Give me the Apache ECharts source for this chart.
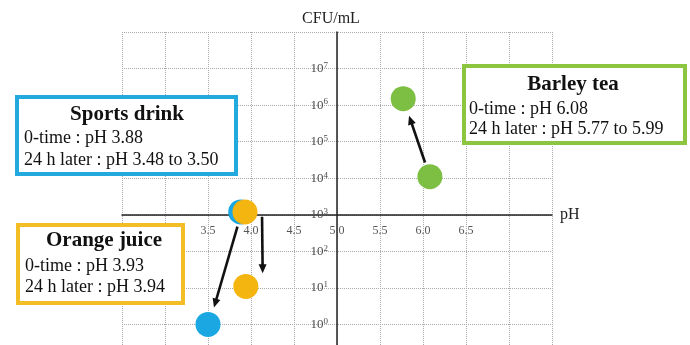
<!DOCTYPE html>
<html>
<head>
<meta charset="utf-8">
<script src="https://cdn.jsdelivr.net/npm/echarts@6/dist/echarts.min.js"></script>
<style>
  html, body { margin: 0; padding: 0; background: #fff; overflow: hidden; }
  #frame { width: 690px; height: 345px; overflow: hidden; position: relative; }
  /* the plot continues a little below the visible frame */
  #chart { width: 690px; height: 361px; position: absolute; left: 0; top: 0; }
</style>
</head>
<body>
<div id="frame"><div id="chart"></div></div>
<script>
// Beverages and their bacterial counts at 0 h and after 24 h
const categories = ['Sports drink', 'Orange juice', 'Barley tea'];
const phStart = [3.88, 3.93, 6.08];
const phEnd = [3.50, 3.94, 5.77];
const cfuStart = [1.2e3, 1.2e3, 1.1e4];
const cfuEnd = [1, 11, 1.5e6];

// Axis ranges and the tick labels that are printed
const phMin = 2.5, phMax = 7.5, phStep = 0.5;
const phTickLabels = ['3.5', '4.0', '4.5', '5.0', '5.5', '6.0', '6.5'];
const cfuMin = 0.1, cfuMax = 1e8;
const cfuTickExponents = [0, 1, 2, 3, 4, 5, 6, 7];
const phCross = 5.0;      // vertical axis sits at this pH
const cfuCross = 1e3;     // horizontal axis sits at this count

// Note boxes
const boxTitles = ['Sports drink', 'Orange juice', 'Barley tea'];
const boxLines = [
  ['0-time : pH 3.88', '24 h later : pH 3.48 to 3.50'],
  ['0-time : pH 3.93', '24 h later : pH 3.94'],
  ['0-time : pH 6.08', '24 h later : pH 5.77 to 5.99']
];

// ---- styling ----
const colors = ['#1BA8E2', '#F5B511', '#7DBF42'];
const boxBorder = ['#22A9DD', '#F3BE25', '#8CC53F'];
const serif = '"Liberation Serif", "Times New Roman", serif';
const grid = { left: 122, top: 32, width: 430, height: 329 };
const xAxisOffset = -grid.height * (Math.log10(cfuCross) - Math.log10(cfuMin)) /
  (Math.log10(cfuMax) - Math.log10(cfuMin));
const yAxisOffset = -grid.width * (phCross - phMin) / (phMax - phMin);

// arrow trimming (px) from each dot centre and sideways shift
const arrowStyle = [
  { trimStart: 15, trimEnd: 18, shift: 1 },
  { trimStart: 5, trimEnd: 13, shift: 17 },
  { trimStart: 15, trimEnd: 18, shift: 0 }
];

// box layout: [x, y, w, h], title centre x, title/line baselines
const boxLayout = [
  { rect: [17, 97, 219, 77], titleX: 127, textX: 24, ys: [115, 138, 160] },
  { rect: [18, 225, 165, 78], titleX: 104, textX: 25, ys: [241, 266, 287] },
  { rect: [464, 66, 221, 77], titleX: 573, textX: 469, ys: [85, 109, 129] }
];

const chart = echarts.init(document.getElementById('chart'), null, { renderer: 'canvas' });

const scatterSeries = categories.map((name, i) => ({
  name: name,
  type: 'scatter',
  symbolSize: 25,
  z: 3,
  itemStyle: { color: colors[i], opacity: 1 },
  data: [[phStart[i], cfuStart[i]], [phEnd[i], cfuEnd[i]]]
}));

const arrowSeries = {
  type: 'custom',
  z: 4,
  silent: true,
  encode: { x: [0, 2], y: [1, 3] },
  data: categories.map((c, i) => [phStart[i], cfuStart[i], phEnd[i], cfuEnd[i]]),
  renderItem: function (params, api) {
    const st = arrowStyle[params.dataIndex];
    const p0 = api.coord([api.value(0), api.value(1)]);
    const p1 = api.coord([api.value(2), api.value(3)]);
    const dx = p1[0] - p0[0], dy = p1[1] - p0[1];
    const len = Math.sqrt(dx * dx + dy * dy);
    const ux = dx / len, uy = dy / len;
    const px = uy, py = -ux;
    const sx = p0[0] + ux * st.trimStart + px * st.shift;
    const sy = p0[1] + uy * st.trimStart + py * st.shift;
    const tx = p1[0] - ux * st.trimEnd + px * st.shift;
    const ty = p1[1] - uy * st.trimEnd + py * st.shift;
    const headLen = 9, headHalf = 4;
    const bx = tx - ux * headLen, by = ty - uy * headLen;
    return {
      type: 'group',
      children: [
        {
          type: 'line',
          shape: { x1: sx, y1: sy, x2: bx + ux * 1, y2: by + uy * 1 },
          style: { stroke: '#111', lineWidth: 2.6 }
        },
        {
          type: 'polygon',
          shape: { points: [[tx, ty], [bx + px * headHalf, by + py * headHalf], [bx - px * headHalf, by - py * headHalf]] },
          style: { fill: '#111' }
        }
      ]
    };
  }
};

const graphics = [];
boxLayout.forEach((b, i) => {
  graphics.push({
    type: 'rect',
    z: 100,
    shape: { x: b.rect[0], y: b.rect[1], width: b.rect[2], height: b.rect[3] },
    style: { fill: '#fff', stroke: boxBorder[i], lineWidth: 4 }
  });
  graphics.push({
    type: 'text',
    z: 101,
    style: {
      x: b.titleX, y: b.ys[0], text: boxTitles[i],
      font: 'bold 21px ' + serif, fill: '#111',
      textAlign: 'center', textVerticalAlign: 'middle'
    }
  });
  boxLines[i].forEach((line, k) => {
    graphics.push({
      type: 'text',
      z: 101,
      style: {
        x: b.textX, y: b.ys[k + 1], text: line,
        font: '18px ' + serif, fill: '#111',
        textAlign: 'left', textVerticalAlign: 'middle'
      }
    });
  });
});

chart.setOption({
  animation: false,
  backgroundColor: '#fff',
  grid: grid,
  xAxis: {
    type: 'value',
    min: phMin, max: phMax, interval: phStep,
    position: 'bottom',
    offset: xAxisOffset,
    name: 'pH',
    nameLocation: 'end',
    nameGap: 8,
    nameTextStyle: { fontFamily: serif, fontSize: 16, color: '#222', padding: [4, 0, 0, 0] },
    axisLine: { show: true, onZero: false, lineStyle: { color: '#222', width: 1.5 } },
    axisTick: { show: false },
    axisLabel: {
      margin: 10,
      fontFamily: serif, fontSize: 12, color: '#555',
      formatter: function (v) {
        const s = v.toFixed(1);
        return phTickLabels.indexOf(s) >= 0 ? s : '';
      }
    },
    splitLine: { show: true, lineStyle: { type: 'dotted', color: '#aaa', width: 1 } }
  },
  yAxis: {
    type: 'log',
    logBase: 10,
    min: cfuMin, max: cfuMax, interval: 1,
    position: 'left',
    offset: yAxisOffset,
    name: 'CFU/mL',
    nameLocation: 'end',
    nameGap: 5,
    nameTextStyle: { fontFamily: serif, fontSize: 16, color: '#222', padding: [0, 12, 0, 0] },
    axisLine: { show: true, onZero: false, lineStyle: { color: '#222', width: 1.5 } },
    axisTick: { show: false },
    axisLabel: {
      margin: 9,
      color: '#555',
      fontFamily: serif,
      formatter: function (v) {
        const e = Math.round(Math.log10(v));
        return cfuTickExponents.indexOf(e) >= 0 ? '{b|10}{s|' + e + '}' : '';
      },
      rich: {
        b: { fontFamily: serif, fontSize: 13, color: '#4a4a4a', lineHeight: 15 },
        s: { fontFamily: serif, fontSize: 9, color: '#4a4a4a', lineHeight: 9, verticalAlign: 'top' }
      }
    },
    splitLine: { show: true, lineStyle: { type: 'dotted', color: '#aaa', width: 1 } }
  },
  series: scatterSeries.concat([arrowSeries]),
  graphic: graphics
});
</script>
</body>
</html>
